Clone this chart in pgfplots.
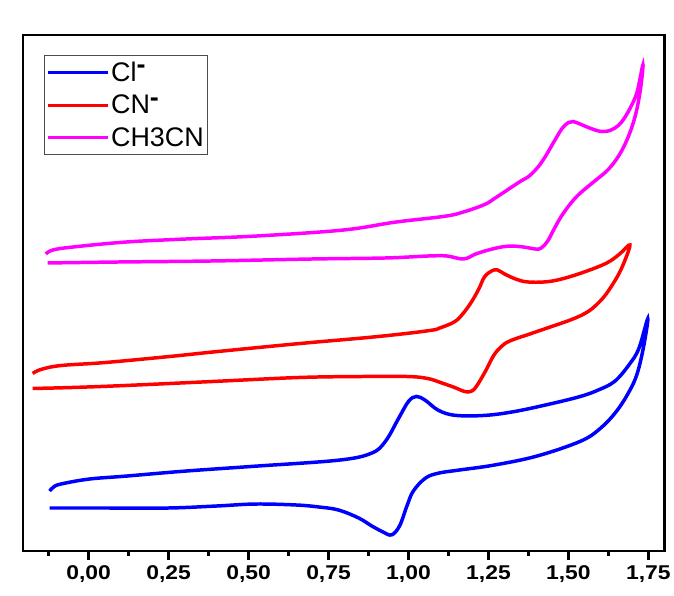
\documentclass[border=0pt]{standalone}
\usepackage{fontspec}
\setmainfont{Liberation Sans}
\usepackage{graphicx}
\usepackage{pgfplots}
\pgfplotsset{compat=1.18}
\definecolor{clblue}{HTML}{0000FF}
\definecolor{cnred}{HTML}{FF0000}
\definecolor{acmag}{HTML}{FF00FF}
\newcommand{\sm}{\raisebox{0.55ex}{\textbf{-}}}
\newcommand{\tl}[1]{\scalebox{1.15}[1]{#1}}
\begin{document}
\begin{tikzpicture}
\begin{axis}[
  scale only axis,
  width=644pt, height=518pt,
  xmin=-0.2056, xmax=1.80,
  ymin=47, ymax=565,
  axis line style={line width=2.6pt},
  xtick={0,0.25,0.5,0.75,1,1.25,1.5,1.75},
  xticklabels={\tl{0,00},\tl{0,25},\tl{0,50},\tl{0,75},\tl{1,00},\tl{1,25},\tl{1,50},\tl{1,75}},
  minor xtick={-0.125,0.125,0.375,0.625,0.875,1.125,1.375,1.625},
  ytick=\empty,
  xtick pos=bottom,
  tick align=outside,
  major tick length=9pt,
  minor tick length=5pt,
  every tick/.style={black, line width=2.6pt},
  xticklabel style={font=\fontsize{20}{20}\selectfont\bfseries, yshift=-2pt},
  legend cell align=left,
  legend style={at={(0.033,0.961)}, anchor=north west, draw=black!70, line width=0.6pt,
    font=\fontsize{27}{27}\selectfont, row sep=8pt, inner xsep=2pt, inner ysep=5pt},
  legend image code/.code={\draw[#1, line width=3pt] (0pt,0pt) -- (60pt,0pt);},
  every axis plot/.append style={line width=3.5pt, smooth, tension=0.6},
]
\addplot[clblue] coordinates {
(-0.122,90) (0.05,90) (0.25,90) (0.40,92) (0.522,94) (0.65,93) (0.72,91)
(0.781,88) (0.844,80) (0.885,72) (0.92,66) (0.947,63) (0.972,72) (0.995,92) (1.015,107)
(1.053,120) (1.094,125) (1.156,128) (1.266,133) (1.4,142)
(1.5375,157) (1.60,170) (1.65,187) (1.69,207) (1.715,225) (1.735,252) (1.748,280)
(1.72,250) (1.69,234) (1.644,217) (1.59,208) (1.5375,202) (1.45,195) (1.334,187) (1.24,183)
(1.147,183) (1.094,188) (1.053,198) (1.025,202) (1.0,197) (0.969,180) (0.928,157)
(0.884,145) (0.781,138)
(0.522,132) (0.3,127) (0.116,122) (0.0,119) (-0.0875,114) (-0.11,111) (-0.122,107)
};
\addlegendentry{Cl\sm}
\addplot[cnred] coordinates {
(-0.175,210) (-0.05,211) (0.116,213) (0.3875,217) (0.656,221) (0.85,222) (0.997,222)
(1.06,220) (1.1,216) (1.144,211) (1.175,207) (1.195,207) (1.212,212) (1.24,227)
(1.266,243) (1.29,252) (1.319,258) (1.4,267)
(1.5375,283) (1.60,298) (1.645,318) (1.672,335) (1.692,354)
(1.66,345) (1.62,336) (1.55,327) (1.48,320) (1.428,317) (1.37,317) (1.334,320) (1.30,325)
(1.278,329) (1.26,328) (1.2375,322) (1.22,310)
(1.197,297) (1.17,285) (1.144,277) (1.1,271) (1.0625,268) (0.9,262) (0.656,255) (0.4,247) (0.25,242)
(0.05,236) (-0.0875,233) (-0.15,229) (-0.175,225)
};
\addlegendentry{CN\sm}
\addplot[acmag] coordinates {
(-0.128,336) (0.1,337) (0.3875,338) (0.7,340) (0.928,341) (1.0625,343) (1.12,343)
(1.172,340) (1.21,345) (1.25,349) (1.29,352)
(1.322,353) (1.36,352) (1.397,350) (1.415,351) (1.435,358) (1.455,370) (1.478,383) (1.51,397) (1.54,407) (1.585,419) (1.625,430)
(1.66,445) (1.6875,463) (1.71,485) (1.725,510) (1.733,535)
(1.715,508) (1.697,494) (1.676,482) (1.656,474) (1.63,469) (1.603,468) (1.57,471) (1.54,475) (1.515,478) (1.5,477) (1.48,471) (1.459,460)
(1.416,437) (1.38,424) (1.35,418) (1.3125,410) (1.27,401) (1.24,395) (1.18,388) (1.116,383) (0.959,377)
(0.794,369) (0.522,363) (0.3,360) (0.116,357) (-0.05,352) (-0.1125,349) (-0.134,345)
};
\addlegendentry{CH3CN}
\end{axis}
\useasboundingbox ([xshift=-23pt,yshift=-45pt]current axis.south west) rectangle
  ([xshift=7pt,yshift=35pt]current axis.north east);
\end{tikzpicture}
\end{document}
